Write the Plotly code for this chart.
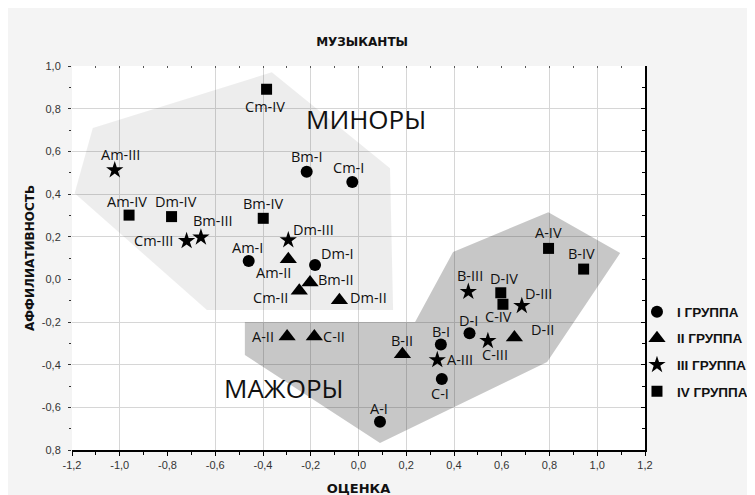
import plotly.graph_objects as go

# ---------------- data ----------------
G1_LABELS = ["Am-I", "Bm-I", "Cm-I", "Dm-I", "A-I", "B-I", "C-I", "D-I"]
G1_X = [-0.46, -0.217, -0.026, -0.182, 0.09, 0.345, 0.349, 0.465]
G1_Y = [0.086, 0.504, 0.456, 0.067, -0.668, -0.305, -0.467, -0.253]

G2_LABELS = ["Am-II", "Bm-II", "Cm-II", "Dm-II", "A-II", "B-II", "C-II", "D-II"]
G2_X = [-0.294, -0.203, -0.248, -0.08, -0.299, 0.184, -0.185, 0.653]
G2_Y = [0.094, -0.015, -0.054, -0.098, -0.268, -0.351, -0.268, -0.273]

G3_LABELS = ["Am-III", "Bm-III", "Cm-III", "Dm-III", "A-III", "B-III", "C-III", "D-III"]
G3_X = [-1.021, -0.66, -0.72, -0.294, 0.33, 0.46, 0.542, 0.684]
G3_Y = [0.512, 0.197, 0.18, 0.184, -0.378, -0.058, -0.288, -0.124]

G4_LABELS = ["Am-IV", "Bm-IV", "Cm-IV", "Dm-IV", "A-IV", "B-IV", "C-IV", "D-IV"]
G4_X = [-0.961, -0.399, -0.385, -0.783, 0.796, 0.943, 0.605, 0.596]
G4_Y = [0.301, 0.286, 0.891, 0.294, 0.145, 0.048, -0.117, -0.063]

GROUP_NAMES = ["I ГРУППА", "II ГРУППА", "III ГРУППА", "IV ГРУППА"]

# region outlines (data coordinates)
MINOR_X = [-1.113, -0.363, 0.132, 0.145, -0.635, -1.189]
MINOR_Y = [0.709, 0.971, 0.521, -0.144, -0.144, 0.404]
MAJOR_X = [-0.476, 0.237, 0.396, 0.795, 1.096, 0.790, 0.090, -0.476]
MAJOR_Y = [-0.200, -0.200, 0.128, 0.315, 0.123, -0.388, -0.767, -0.355]

X_TICKS = [-1.2, -1.0, -0.8, -0.6, -0.4, -0.2, 0.0, 0.2, 0.4, 0.6, 0.8, 1.0, 1.2]
X_TICKTEXT = ["-1,2", "-1,0", "-0,8", "-0,6", "-0,4", "-0,2", "0,0", "0,2", "0,4", "0,6", "0,8", "1,0", "1,2"]
Y_TICKS = [1.0, 0.8, 0.6, 0.4, 0.2, 0.0, -0.2, -0.4, -0.6, -0.8]
Y_TICKTEXT = ["1,0", "0,8", "0,6", "0,4", "0,2", "0,0", "-0,2", "-0,4", "-0,6", "0,8"]
X_GRID = [-1.0, -0.6, -0.4, -0.2, 0.0, 0.2, 0.4, 0.8, 1.0]
Y_GRID = [0.8, 0.6, 0.4, 0.2, -0.2, -0.4, -0.6]

# ---------------- label placement (pixel offset of label centre from its point) ----------------
LABEL_OFFSET = {
    "Am-I": (-1, -13), "Bm-I": (0, -15), "Cm-I": (-4, -15), "Dm-I": (22, -12),
    "A-I": (-1, -13), "B-I": (0, -13), "C-I": (-2, 15), "D-I": (-1, -13),
    "Am-II": (-15, 13), "Bm-II": (26, -3), "Cm-II": (-29, 7), "Dm-II": (29, -3),
    "A-II": (-24, 0), "B-II": (0, -14), "C-II": (20, 0), "D-II": (28, -8),
    "Am-III": (6, -16), "Bm-III": (12, -17), "Cm-III": (-33, 0), "Dm-III": (25, -11),
    "A-III": (23, 0), "B-III": (2, -16), "C-III": (7, 14), "D-III": (17, -12),
    "Am-IV": (-2, -14), "Bm-IV": (0, -15), "Cm-IV": (-2, 17), "Dm-IV": (4, -15),
    "A-IV": (0, -16), "B-IV": (-2, -16), "C-IV": (-4, 12), "D-IV": (3, -14),
}

LABEL_FONT = dict(family="Open Sans, Noto Sans, sans-serif", size=14.5, color="#111111")
BOLD_FONT = "DejaVu Sans, Roboto, sans-serif"

fig = go.Figure()

# regions
fig.add_trace(go.Scatter(x=MINOR_X, y=MINOR_Y, fill="toself", mode="lines",
                         line=dict(width=0), fillcolor="rgba(0,0,0,0.07)",
                         hoverinfo="skip", showlegend=False))
fig.add_trace(go.Scatter(x=MAJOR_X, y=MAJOR_Y, fill="toself", mode="lines",
                         line=dict(width=0), fillcolor="rgba(0,0,0,0.22)",
                         hoverinfo="skip", showlegend=False))

groups = [
    (G1_LABELS, G1_X, G1_Y, "circle", 12),
    (G2_LABELS, G2_X, G2_Y, "triangle-up", 15),
    (G3_LABELS, G3_X, G3_Y, "star", 13),
    (G4_LABELS, G4_X, G4_Y, "square", 11),
]
for i, (labels, xs, ys, sym, size) in enumerate(groups):
    fig.add_trace(go.Scatter(
        x=xs, y=ys, mode="markers", text=labels, hoverinfo="text",
        marker=dict(symbol=sym, size=size, color="black", line=dict(width=0)),
        name=f"<b>{GROUP_NAMES[i]}</b>", legendgroup=f"g{i}",
    ))
    for lab, xv, yv in zip(labels, xs, ys):
        dx, dy = LABEL_OFFSET[lab]
        fig.add_annotation(x=xv, y=yv, xref="x", yref="y", text=lab, showarrow=False,
                           xanchor="center", yanchor="middle", xshift=dx, yshift=-dy,
                           font=LABEL_FONT)

# dummy trace to activate overlay axes (grid, right line, top ticks)
fig.add_trace(go.Scatter(x=[None], y=[None], xaxis="x2", yaxis="y2",
                         showlegend=False, hoverinfo="skip"))

fig.add_annotation(text="МИНОРЫ", x=0.03, y=0.75, xref="x", yref="y", showarrow=False,
                   font=dict(family="Open Sans, Noto Sans, sans-serif", size=26, color="#111111"))
fig.add_annotation(text="МАЖОРЫ", x=-0.31, y=-0.51, xref="x", yref="y", showarrow=False,
                   font=dict(family="Open Sans, Noto Sans, sans-serif", size=26, color="#111111"))

tickfont = dict(family="Liberation Sans, Arial, sans-serif", size=11, color="#333333")

fig.update_layout(
    width=755, height=495,
    paper_bgcolor="#f4f4f4", plot_bgcolor="white",
    margin=dict(l=64, r=118, t=58, b=53, autoexpand=False),
    title=dict(text="<b>МУЗЫКАНТЫ</b>", x=0.469, xanchor="center", y=0.931, yanchor="middle",
               font=dict(family=BOLD_FONT, size=12, color="#111111")),
    xaxis=dict(range=[-1.2, 1.2], tickmode="array", tickvals=X_TICKS, ticktext=X_TICKTEXT,
               ticks="outside", ticklen=4, tickcolor="black", showline=True, linewidth=2,
               linecolor="black", showgrid=False, zeroline=False, tickfont=tickfont,
               minor=dict(ticks="outside", ticklen=3, tickcolor="black", tickmode="linear",
                          tick0=-1.2, dtick=0.1, showgrid=False),
               title=dict(text="<b>ОЦЕНКА</b>", standoff=14,
                          font=dict(family=BOLD_FONT, size=13, color="#111111"))),
    yaxis=dict(range=[-0.8, 1.0], tickmode="array", tickvals=Y_TICKS, ticktext=Y_TICKTEXT,
               ticks="outside", ticklen=3, tickcolor="#333333", showline=False,
               showgrid=False, zeroline=False, tickfont=tickfont, ticklabelstandoff=5,
               minor=dict(ticks="outside", ticklen=2, tickcolor="#333333", tickmode="linear",
                          tick0=-0.8, dtick=0.1, showgrid=False),
               title=dict(text="<b>АФФИЛИАТИВНОСТЬ</b>", standoff=4,
                          font=dict(family=BOLD_FONT, size=12, color="#111111"))),
    xaxis2=dict(range=[-1.2, 1.2], overlaying="x", side="top", anchor="y2",
                tickmode="array", tickvals=X_GRID, showticklabels=False,
                ticks="inside", ticklen=2, tickcolor="#555555",
                showgrid=True, gridcolor="#d6d6d6", gridwidth=1, zeroline=False, showline=False,
                minor=dict(ticks="inside", ticklen=2, tickcolor="#555555", tickmode="linear",
                           tick0=-1.2, dtick=0.1, showgrid=False)),
    yaxis2=dict(range=[-0.8, 1.0], overlaying="y", side="right", anchor="x2",
                tickmode="array", tickvals=Y_GRID, showticklabels=False,
                ticks="inside", ticklen=4, tickcolor="black",
                showgrid=True, gridcolor="#d6d6d6", gridwidth=1, zeroline=False,
                showline=True, linecolor="black", linewidth=2,
                minor=dict(ticks="inside", ticklen=3, tickcolor="black", tickmode="linear",
                           tick0=-0.8, dtick=0.1, showgrid=False)),
    legend=dict(x=0.986, xanchor="left", y=0.4, yanchor="top", bgcolor="rgba(0,0,0,0)",
                font=dict(family="Liberation Sans, Arial, sans-serif", size=13.5, color="#111111"),
                tracegroupgap=6, itemwidth=30),
)

fig.write_html("out.html")
